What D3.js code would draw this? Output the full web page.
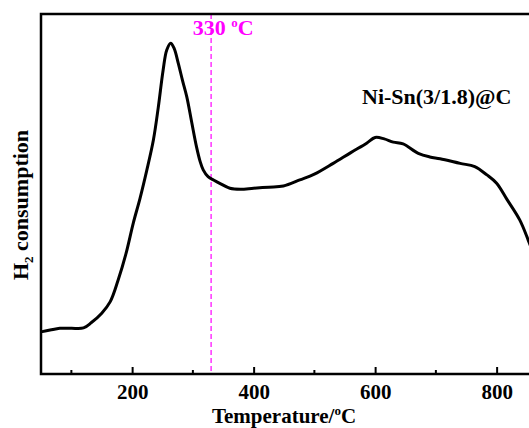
<!DOCTYPE html>
<html>
<head>
<meta charset="utf-8">
<script src="https://cdn.jsdelivr.net/npm/d3@7"></script>
<style>
  body { margin: 0; background: #fff; }
  text { font-family: "Liberation Serif", "Times New Roman", serif; font-weight: bold; }
</style>
</head>
<body>
<script>
const w = 529;
const h = 428;

// temperature (ºC) and H2 signal (a.u.)
const temps = [50, 65, 81, 100, 120, 133, 150, 164, 177, 190, 202, 213, 224, 235, 243, 251, 257, 263.5, 269, 276, 283, 290, 298, 306, 312, 317, 325, 334, 345, 361, 378, 400, 425, 449, 476, 500, 531, 560, 586, 600, 615, 630, 646, 671, 690, 707, 740, 764, 784, 800, 817, 838, 852, 870];
const signal = [11.7, 12.2, 12.7, 12.7, 12.8, 14.3, 16.9, 20.1, 26.1, 33.5, 42.0, 48.8, 56.5, 65.0, 74.0, 84.4, 90.0, 91.9, 90.5, 86.3, 81.5, 77.0, 70.0, 63.1, 59.0, 56.7, 54.8, 53.9, 52.9, 51.6, 51.3, 51.6, 51.9, 52.2, 53.9, 55.5, 58.5, 61.5, 64.1, 65.7, 65.3, 64.4, 63.9, 61.3, 60.3, 59.8, 58.5, 57.6, 55.3, 53.0, 48.5, 42.8, 37.2, 29.0];
const xTicks = [200, 400, 600, 800];
const xMinorTicks = [100, 300, 500, 700];
const markT = 330;

const margin = {left: 41, top: 14, bottom: 374};

const xScale = d3.scaleLinear()
  .domain([50, 900])
  .range([margin.left, margin.left + 850 * 0.6075]);

const yScale = d3.scaleLinear()
  .domain([0, 100])
  .range([margin.bottom, margin.top]);

const svg = d3.select("body")
  .append("svg")
  .attr("width", w)
  .attr("height", h);

const data = temps.map((t, i) => ({t: t, v: signal[i]}));

// dashed marker
svg.append("line")
  .attr("x1", xScale(markT))
  .attr("x2", xScale(markT))
  .attr("y1", margin.top)
  .attr("y2", margin.bottom)
  .attr("stroke", "#ff00ff")
  .attr("stroke-width", 1.2)
  .attr("stroke-dasharray", "5,3");

svg.append("text")
  .attr("x", xScale(markT) + 12)
  .attr("y", 35)
  .attr("text-anchor", "middle")
  .attr("font-size", "22px")
  .attr("fill", "#ff00ff")
  .html('330 <tspan font-size="13px" dy="-8">o</tspan><tspan dy="8">C</tspan>');

// curve
const line = d3.line()
  .x((d) => xScale(d.t))
  .y((d) => yScale(d.v))
  .curve(d3.curveCatmullRom.alpha(0.5));

svg.append("path")
  .datum(data)
  .attr("d", line)
  .attr("fill", "none")
  .attr("stroke", "#000")
  .attr("stroke-width", 3)
  .attr("stroke-linejoin", "round");

// frame
svg.append("path")
  .attr("d", "M" + (w + 5) + "," + margin.top + "H" + margin.left + "V" + margin.bottom + "H" + (w + 5))
  .attr("fill", "none")
  .attr("stroke", "#000")
  .attr("stroke-width", 2.5);

// x axis
const xAxis = d3.axisBottom(xScale)
  .tickValues(xTicks)
  .tickSize(-7)
  .tickPadding(10)
  .tickFormat(d3.format("d"));

const gx = svg.append("g")
  .attr("transform", "translate(0," + margin.bottom + ")")
  .call(xAxis);
gx.select(".domain").remove();
gx.selectAll(".tick line").attr("stroke-width", 2);
gx.selectAll(".tick text")
  .attr("font-size", "21px")
  .attr("font-family", "Liberation Serif")
  .attr("fill", "#000");

svg.selectAll(".minor")
  .data(xMinorTicks)
  .enter()
  .append("line")
  .attr("class", "minor")
  .attr("x1", (d) => xScale(d))
  .attr("x2", (d) => xScale(d))
  .attr("y1", margin.bottom)
  .attr("y2", margin.bottom - 4)
  .attr("stroke", "#000")
  .attr("stroke-width", 2);

// labels
svg.append("text")
  .attr("x", 284)
  .attr("y", 423)
  .attr("text-anchor", "middle")
  .attr("font-size", "21px")
  .html('Temperature/<tspan font-size="13px" dy="-8">o</tspan><tspan dy="8">C</tspan>');

svg.append("text")
  .attr("transform", "translate(28,205) rotate(-90)")
  .attr("text-anchor", "middle")
  .attr("font-size", "22px")
  .html('H<tspan font-size="13px" dy="5">2</tspan><tspan dy="-5"> consumption</tspan>');

svg.append("text")
  .attr("x", 362)
  .attr("y", 104)
  .attr("font-size", "22px")
  .text("Ni-Sn(3/1.8)@C");
</script>
</body>
</html>
